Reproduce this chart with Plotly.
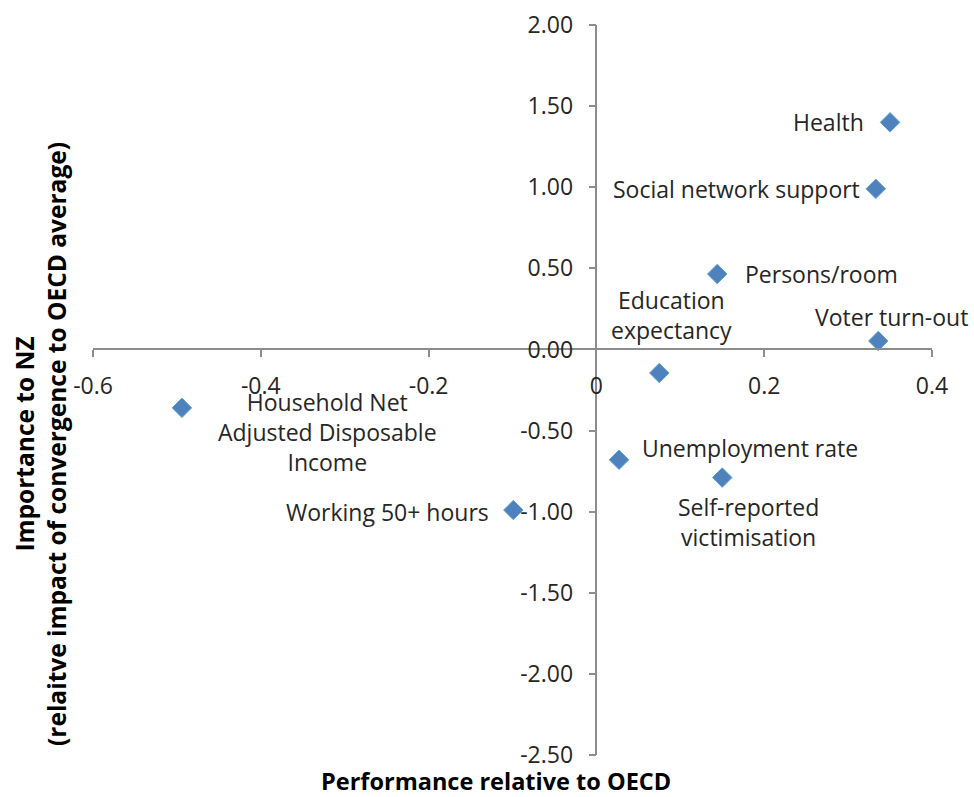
import plotly.graph_objects as go

# ---- data ----
labels = ["Health", "Social network support", "Persons/room", "Voter turn-out",
          "Education<br>expectancy", "Household Net<br>Adjusted Disposable<br>Income",
          "Unemployment rate", "Self-reported<br>victimisation", "Working 50+ hours"]
performance = [0.350, 0.333, 0.144, 0.336, 0.075, -0.494, 0.027, 0.150, -0.099]
importance = [1.40, 0.99, 0.465, 0.052, -0.145, -0.36, -0.68, -0.79, -0.99]

x_tickvals = [-0.6, -0.4, -0.2, 0, 0.2, 0.4]
x_ticktext = ["-0.6", "-0.4", "-0.2", "0", "0.2", "0.4"]
y_tickvals = [2.0, 1.5, 1.0, 0.5, 0.0, -0.5, -1.0, -1.5, -2.0, -2.5]
y_ticktext = ["2.00", "1.50", "1.00", "0.50", "0.00", "-0.50", "-1.00", "-1.50", "-2.00", "-2.50"]

x_title = "Performance relative to OECD"
y_title = "Importance to NZ<br>(relaitve impact of convergence to OECD average)"

# label placement (anchor, xshift, yshift) - styling only
label_style = [
    ("right", -24, 0), ("right", -14, 0), ("left", 26, 0), ("center", 13, 24),
    ("center", 12, 58), ("center", 146, -24), ("left", 21, 12), ("center", 26, -44),
    ("right", -22, -2),
]

FONT = "Open Sans"
AXIS_COLOR = "#8c8c8c"
TEXT_COLOR = "#262626"

fig = go.Figure()
fig.add_trace(go.Scatter(
    x=performance, y=importance, mode="markers",
    marker=dict(symbol="diamond", size=15, color="#4F81BD",
                line=dict(color="#5BA3CF", width=1)),
    hoverinfo="skip", showlegend=False,
))

for lab, xv, yv, (anc, dx, dy) in zip(labels, performance, importance, label_style):
    fig.add_annotation(x=xv, y=yv, text=lab, showarrow=False, xanchor=anc,
                       yanchor="middle", xshift=dx, yshift=dy, align="center",
                       font=dict(family=FONT, size=23, color=TEXT_COLOR))

xr = [-0.6, 0.4]
yr = [-2.5, 2.0]
fig.update_layout(
    width=974, height=797,
    margin=dict(l=93, r=42, t=25, b=42, autoexpand=False),
    paper_bgcolor="white", plot_bgcolor="white",
    font=dict(family=FONT, color=TEXT_COLOR),
    xaxis=dict(range=xr, anchor="free", position=(0 - yr[0]) / (yr[1] - yr[0]),
               showline=True, linecolor=AXIS_COLOR, linewidth=1.5,
               ticks="outside", ticklen=7, tickwidth=1.5, tickcolor=AXIS_COLOR,
               tickvals=x_tickvals, ticktext=x_ticktext, ticklabelstandoff=9,
               tickfont=dict(family=FONT, size=23, color=TEXT_COLOR),
               showgrid=False, zeroline=False, automargin=False),
    yaxis=dict(range=yr, anchor="free", position=(0 - xr[0]) / (xr[1] - xr[0]),
               showline=True, linecolor=AXIS_COLOR, linewidth=1.5,
               ticks="outside", ticklen=7, tickwidth=1.5, tickcolor=AXIS_COLOR,
               tickvals=y_tickvals, ticktext=y_ticktext, ticklabelstandoff=11,
               tickfont=dict(family=FONT, size=23, color=TEXT_COLOR),
               showgrid=False, zeroline=False, automargin=False),
)

fig.add_annotation(x=0.48, y=0, xref="paper", yref="paper", text="<b>" + x_title + "</b>",
                   showarrow=False, xanchor="center", yanchor="middle", yshift=-26,
                   font=dict(family=FONT, size=23.5, color="#000000"))
fig.add_annotation(x=0, y=0.426, xref="paper", yref="paper",
                   text="<b>" + y_title.replace("<br>", "</b><br><b>") + "</b>",
                   showarrow=False, textangle=-90, xanchor="center", yanchor="middle",
                   xshift=-53, font=dict(family=FONT, size=24.5, color="#000000"))

fig.write_html("out.html")
